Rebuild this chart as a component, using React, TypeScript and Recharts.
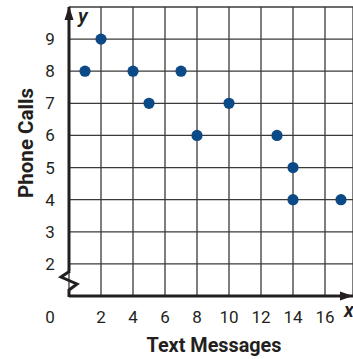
import React from 'react';
import {
  ScatterChart,
  Scatter,
  XAxis,
  YAxis,
  CartesianGrid,
  ReferenceLine,
  ReferenceDot,
} from 'recharts';

// Text messages (x) vs phone calls (y)
const textMessages = [1, 2, 4, 5, 7, 8, 10, 13, 14, 14, 17];
const phoneCalls = [8, 9, 8, 7, 8, 6, 7, 6, 5, 4, 4];
const xTicks = [0, 2, 4, 6, 8, 10, 12, 14, 16];
const yTicks = [1, 2, 3, 4, 5, 6, 7, 8, 9, 10];
const yLabelled = [2, 3, 4, 5, 6, 7, 8, 9];

const data = textMessages.map((t, i) => ({ texts: t, calls: phoneCalls[i] }));

const INK = '#231f20';
const DOT = '#0b4a86';
const tickFont = 'Roboto, "Noto Sans", sans-serif';

const XTick = (props: any) => {
  const { x, y, payload } = props;
  const dx = payload.value === 0 ? -19 : 0;
  return (
    <text
      x={x + dx}
      y={y + 21}
      textAnchor="middle"
      dominantBaseline="central"
      fill={INK}
      fontSize={17}
      fontFamily={tickFont}
    >
      {payload.value}
    </text>
  );
};

const YTick = (props: any) => {
  const { x, y, payload } = props;
  if (!yLabelled.includes(payload.value)) return <g />;
  return (
    <text
      x={x - 19}
      y={y}
      textAnchor="middle"
      dominantBaseline="central"
      fill={INK}
      fontSize={17}
      fontFamily={tickFont}
    >
      {payload.value}
    </text>
  );
};

const Dot = (props: any) => {
  const { cx, cy } = props;
  return <circle cx={cx} cy={cy} r={5.6} fill={DOT} />;
};

// y axis bottom: break zigzag down to the origin
const AxisBreak = (props: any) => {
  const { cx, cy } = props;
  const d = `M${cx + 1},${cy - 25} L${cx - 8},${cy - 19} L${cx + 8},${cy - 12} L${cx},${cy - 6} L${cx},${cy + 1}`;
  return <path d={d} fill="none" stroke={INK} strokeWidth={3} strokeLinejoin="miter" />;
};

const YArrow = (props: any) => {
  const { cx, cy } = props;
  return (
    <g>
      <path d={`M${cx},${cy - 1} L${cx - 4.5},${cy + 13} L${cx + 4.5},${cy + 13} Z`} fill={INK} />
      <text
        x={cx + 9}
        y={cy + 9}
        fontSize={20}
        fontStyle="italic"
        fontWeight={600}
        fill={INK}
        fontFamily={tickFont}
        dominantBaseline="central"
      >
        y
      </text>
    </g>
  );
};

const XArrow = (props: any) => {
  const { cx, cy } = props;
  return (
    <g>
      <path d={`M${cx},${cy} L${cx - 13},${cy - 4.5} L${cx - 13},${cy + 4.5} Z`} fill={INK} />
      <text
        x={cx - 9}
        y={cy + 14}
        fontSize={20}
        fontStyle="italic"
        fontWeight={600}
        fill={INK}
        fontFamily={tickFont}
        dominantBaseline="central"
      >
        x
      </text>
    </g>
  );
};

const XTitle = () => (
  <text
    x={214}
    y={345}
    textAnchor="middle"
    dominantBaseline="central"
    fontSize={21}
    fontWeight={700}
    fill={INK}
    fontFamily={tickFont}
    textLength={135}
    lengthAdjust="spacingAndGlyphs"
  >
    Text Messages
  </text>
);

const YTitle = () => (
  <text
    x={26}
    y={143}
    transform="rotate(-90 26 143)"
    textAnchor="middle"
    dominantBaseline="central"
    fontSize={21}
    fontWeight={700}
    fill={INK}
    fontFamily={tickFont}
    textLength={110}
    lengthAdjust="spacingAndGlyphs"
  >
    Phone Calls
  </text>
);

export default function App() {
  return (
    <div style={{ position: 'absolute', left: 0, top: 0, width: 353, height: 359, background: '#fff' }}>
      <ScatterChart width={353} height={359} margin={{ top: 7, right: 0, bottom: 0, left: 0 }}>
        <CartesianGrid stroke="#3a3a3a" strokeWidth={1.3} />
        <XAxis
          type="number"
          dataKey="texts"
          domain={[0, 17.75]}
          ticks={xTicks}
          height={63}
          tickSize={0}
          tickMargin={0}
          tickLine={false}
          axisLine={{ stroke: INK, strokeWidth: 3 }}
          tick={<XTick />}
          label={{ content: <XTitle /> }}
          allowDataOverflow
        />
        <YAxis
          type="number"
          dataKey="calls"
          domain={[1, 10]}
          ticks={yTicks}
          width={69}
          tickSize={0}
          tickMargin={0}
          tickLine={false}
          axisLine={false}
          tick={<YTick />}
          label={{ content: <YTitle /> }}
          allowDataOverflow
        />
        <ReferenceLine
          segment={[
            { x: 0, y: 1.78 },
            { x: 0, y: 10 },
          ]}
          stroke={INK}
          strokeWidth={3}
        />
        <ReferenceDot x={0} y={1} r={0} shape={<AxisBreak />} ifOverflow="visible" />
        <ReferenceDot x={0} y={10} r={0} shape={<YArrow />} ifOverflow="visible" />
        <ReferenceDot x={17.75} y={1} r={0} shape={<XArrow />} ifOverflow="visible" />
        <Scatter data={data} fill={DOT} shape={<Dot />} isAnimationActive={false} />
      </ScatterChart>
    </div>
  );
}
